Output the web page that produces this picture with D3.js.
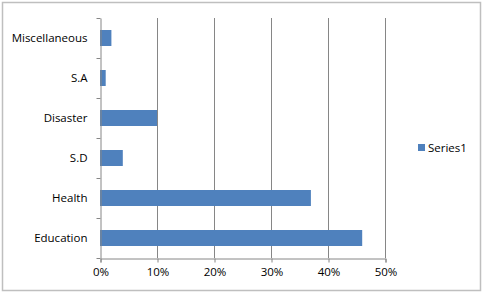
<!DOCTYPE html>
<html>
<head>
<meta charset="utf-8">
<script src="https://cdn.jsdelivr.net/npm/d3@7"></script>
<style>
  body { margin: 0; background: #fff; }
  text { font-family: "Open Sans", "Noto Sans", sans-serif; fill: #000; }
</style>
</head>
<body>
<svg id="chart"></svg>
<script>
// data
var categories = ["Education", "Health", "S.D", "Disaster", "S.A", "Miscellaneous"];
var values = [0.46, 0.37, 0.04, 0.10, 0.01, 0.02];
var xTicks = [0, 0.1, 0.2, 0.3, 0.4, 0.5];
var seriesName = "Series1";

var width = 483,
    height = 294;

var svg = d3.select("#chart")
    .attr("width", width)
    .attr("height", height);

// outer border
svg.append("rect")
    .attr("x", 2.5).attr("y", 2.5)
    .attr("width", 478).attr("height", 288)
    .attr("style", "fill: #fff; stroke: #bfbfbf; stroke-width: 1.5");

var x = d3.scaleLinear().domain([0, 0.5]).range([100, 385]);
var y = d3.scaleBand().domain(categories).range([258, 18]).paddingInner(0.6).paddingOuter(0.3);
var band = d3.scaleBand().domain(categories).range([258, 18]);

var g = svg.append("g");

// gridlines
g.selectAll(".grid")
    .data(xTicks.slice(1))
    .enter().append("line")
    .attr("x1", function(d) { return x(d) + 0.5; })
    .attr("x2", function(d) { return x(d) + 0.5; })
    .attr("y1", 18).attr("y2", 258)
    .attr("style", "stroke: #868686; stroke-width: 1");

// bars
g.selectAll(".bar")
    .data(values)
    .enter().append("rect")
    .attr("x", x(0))
    .attr("y", function(d, i) { return y(categories[i]); })
    .attr("width", function(d) { return x(d) - x(0); })
    .attr("height", y.bandwidth())
    .attr("style", "fill: #4f81bd");

// x axis
var xAxis = g.append("g")
    .attr("transform", "translate(0.5,258.5)")
    .call(d3.axisBottom(x).tickValues(xTicks).tickFormat(d3.format(".0%")).tickSize(4).tickPadding(5));
xAxis.select(".domain").attr("stroke", "#868686");
xAxis.selectAll(".tick line").attr("stroke", "#868686");
xAxis.selectAll("text").attr("font-size", 11.5).attr("font-family", null);

// y axis
var yAxis = g.append("g")
    .attr("transform", "translate(100.5,0)")
    .call(d3.axisLeft(band).tickSize(0).tickPadding(13));
yAxis.select(".domain").attr("stroke", "#868686");
yAxis.selectAll("text").attr("font-size", 11.5).attr("font-family", null);

// band boundary ticks
yAxis.selectAll(".btick")
    .data(d3.range(categories.length + 1))
    .enter().append("line")
    .attr("x1", -4).attr("x2", 0)
    .attr("y1", function(d) { return 258 - d * band.step() + 0.5; })
    .attr("y2", function(d) { return 258 - d * band.step() + 0.5; })
    .attr("stroke", "#868686");

// legend
var legend = svg.append("g").attr("transform", "translate(418,144)");
legend.append("rect")
    .attr("width", 7).attr("height", 7)
    .attr("style", "fill: #4f81bd");
legend.append("text")
    .attr("x", 10).attr("y", 3.5)
    .attr("dy", "0.35em")
    .attr("font-size", 11.5)
    .text(seriesName);
</script>
</body>
</html>
